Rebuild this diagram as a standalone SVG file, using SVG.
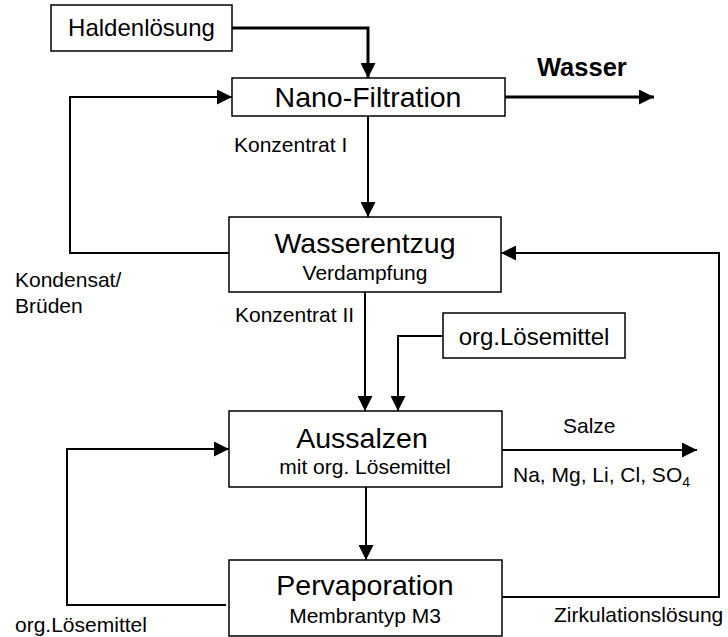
<svg xmlns="http://www.w3.org/2000/svg" width="728" height="637" viewBox="0 0 728 637">
  <defs>
    <marker id="arr" viewBox="0 0 15 15" refX="15" refY="7.5" markerWidth="15" markerHeight="15" markerUnits="userSpaceOnUse" orient="auto">
      <path d="M0,0 L15,7.5 L0,15 z" fill="#000"/>
    </marker>
    <style>
      .box { fill: #fff; stroke: #000; stroke-width: 1.5; }
      .t { font-family: "Liberation Sans", Arial, sans-serif; fill: #000; }
      .big { font-size: 28.5px; text-anchor: middle; }
      .mid { font-size: 24px; text-anchor: middle; }
      .sub { font-size: 21px; text-anchor: middle; }
      .lbl { font-size: 21px; }
      .c { fill: none; stroke: #000; stroke-width: 2; marker-end: url(#arr); }
      .thick { stroke-width: 3; }
    </style>
  </defs>
  <rect width="728" height="637" fill="#fff"/>

  <g id="connectors">
    <polyline class="c thick" points="232,28 368,28 368,78"/>
    <line class="c thick" x1="505" y1="97" x2="654" y2="97"/>
    <line class="c" x1="368" y1="116" x2="368" y2="217"/>
    <polyline class="c" points="229,253 70,253 70,97 232,97"/>
    <line class="c" x1="365" y1="292" x2="365" y2="411"/>
    <polyline class="c" points="443,336 398,336 398,411"/>
    <line class="c" x1="502" y1="450" x2="697" y2="450"/>
    <line class="c" x1="366" y1="487" x2="366" y2="560"/>
    <polyline class="c" points="502,597 719,597 719,253 501,253"/>
    <polyline class="c" points="226,605 67,605 67,449 229,449"/>
  </g>

  <g id="haldenloesung">
    <rect class="box" x="51" y="5" width="181" height="46"/>
    <text class="t mid" x="141.5" y="36">Haldenlösung</text>
  </g>
  <g id="nanofiltration">
    <rect class="box" x="232" y="78" width="273" height="38"/>
    <text class="t big" x="368" y="107">Nano-Filtration</text>
  </g>
  <g id="wasserentzug">
    <rect class="box" x="229" y="217" width="272" height="75"/>
    <text class="t big" x="365" y="253">Wasserentzug</text>
    <text class="t sub" x="365" y="280">Verdampfung</text>
  </g>
  <g id="orgloesemittel">
    <rect class="box" x="443" y="313" width="182" height="45"/>
    <text class="t mid" x="534" y="345">org.Lösemittel</text>
  </g>
  <g id="aussalzen">
    <rect class="box" x="229" y="411" width="273" height="76"/>
    <text class="t big" x="362" y="448">Aussalzen</text>
    <text class="t sub" x="365" y="474">mit org. Lösemittel</text>
  </g>
  <g id="pervaporation">
    <rect class="box" x="229" y="560" width="273" height="76"/>
    <text class="t big" x="365" y="595">Pervaporation</text>
    <text class="t sub" x="365" y="623">Membrantyp M3</text>
  </g>

  <g id="labels">
    <text class="t" x="537" y="76" font-size="25.5" font-weight="bold">Wasser</text>
    <text class="t lbl" x="234" y="152">Konzentrat I</text>
    <text class="t lbl" x="235" y="322">Konzentrat II</text>
    <text class="t lbl" x="15" y="287">Kondensat/</text>
    <text class="t lbl" x="15" y="313">Brüden</text>
    <text class="t lbl" x="563" y="433">Salze</text>
    <text class="t lbl" x="513" y="482">Na, Mg, Li, Cl, SO<tspan font-size="14" dy="5">4</tspan></text>
    <text class="t lbl" x="554" y="622">Zirkulationslösung</text>
    <text class="t lbl" x="15" y="632">org.Lösemittel</text>
  </g>
</svg>
